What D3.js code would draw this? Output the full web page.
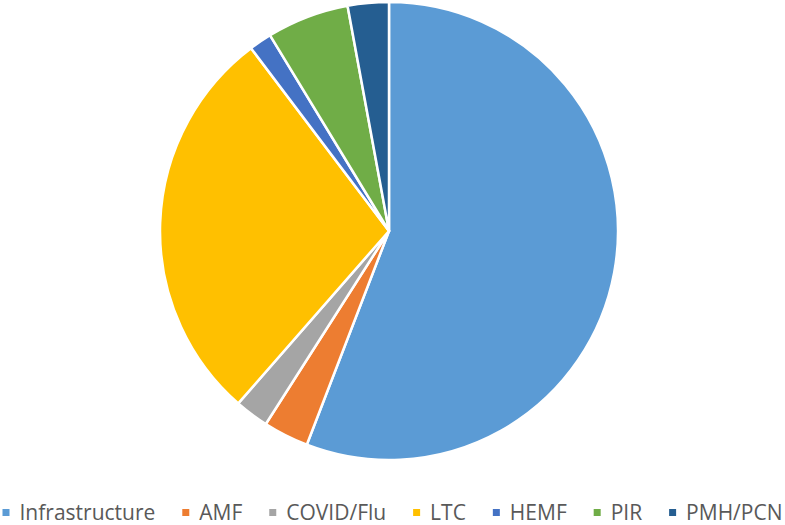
<!DOCTYPE html>
<html lang="en">
	<head>
		<meta charset="utf-8">
		<title>Funding split</title>
		<style>
			html, body {
				margin: 0;
				background: #fff;
			}
			svg {
				display: block;
				font-family: 'Open Sans', 'Noto Sans', sans-serif;
			}
		</style>
	</head>
	<body>
		<script src="https://cdn.jsdelivr.net/npm/d3@7"></script>
		<script>
		const categories = ['Infrastructure', 'AMF', 'COVID/Flu', 'LTC', 'HEMF', 'PIR', 'PMH/PCN']
		const values = [55.9, 3.2, 2.4, 28.3, 1.6, 5.8, 2.9]
		const colors = ['#5b9bd5', '#ed7d31', '#a5a5a5', '#ffc000', '#4472c4', '#70ad47', '#255e91']

		const w = 785
		const h = 525
		const cx = 389
		const cy = 231
		const r = 229
		const legendY = 513
		const fontSize = 21

		const svg = d3.select('body').append('svg')
			.attr('width', w)
			.attr('height', h)

		const color = d3.scaleOrdinal(categories, colors)

		const pie = d3.pie()
			.sort(null)
			.value((d, i) => values[i])

		const arc = d3.arc()
			.innerRadius(0)
			.outerRadius(r)

		svg.append('g')
			.attr('transform', `translate(${cx}, ${cy})`)
			.selectAll('path')
			.data(pie(categories))
			.join('path')
			.attr('d', arc)
			.attr('fill', d => color(d.data))
			.attr('stroke', '#fff')
			.attr('stroke-width', 2.5)
			.attr('stroke-linejoin', 'round')

		// legend: marker, gap, label, spacing, centred under the chart
		const legend = svg.append('g')
			.attr('font-size', fontSize)
			.attr('fill', '#595959')

		const items = legend.selectAll('g')
			.data(categories)
			.join('g')

		items.append('rect')
			.attr('width', 7)
			.attr('height', 7)
			.attr('y', -4)
			.attr('fill', d => color(d))

		items.append('text')
			.attr('x', 17)
			.attr('dy', '0.35em')
			.text(d => d)

		const markerGap = 17
		const maxWidth = 780
		const tw = []
		items.each(function () {
			tw.push(d3.select(this).select('text').node().getComputedTextLength())
		})
		const spacing = (maxWidth - d3.sum(tw) - markerGap * tw.length) / (tw.length - 1)
		let x = (w - maxWidth) / 2
		const offsets = tw.map(t => {
			const o = x
			x += markerGap + t + spacing
			return o
		})
		items.attr('transform', (d, i) => `translate(${offsets[i]}, ${legendY})`)
		</script>
	</body>
</html>
